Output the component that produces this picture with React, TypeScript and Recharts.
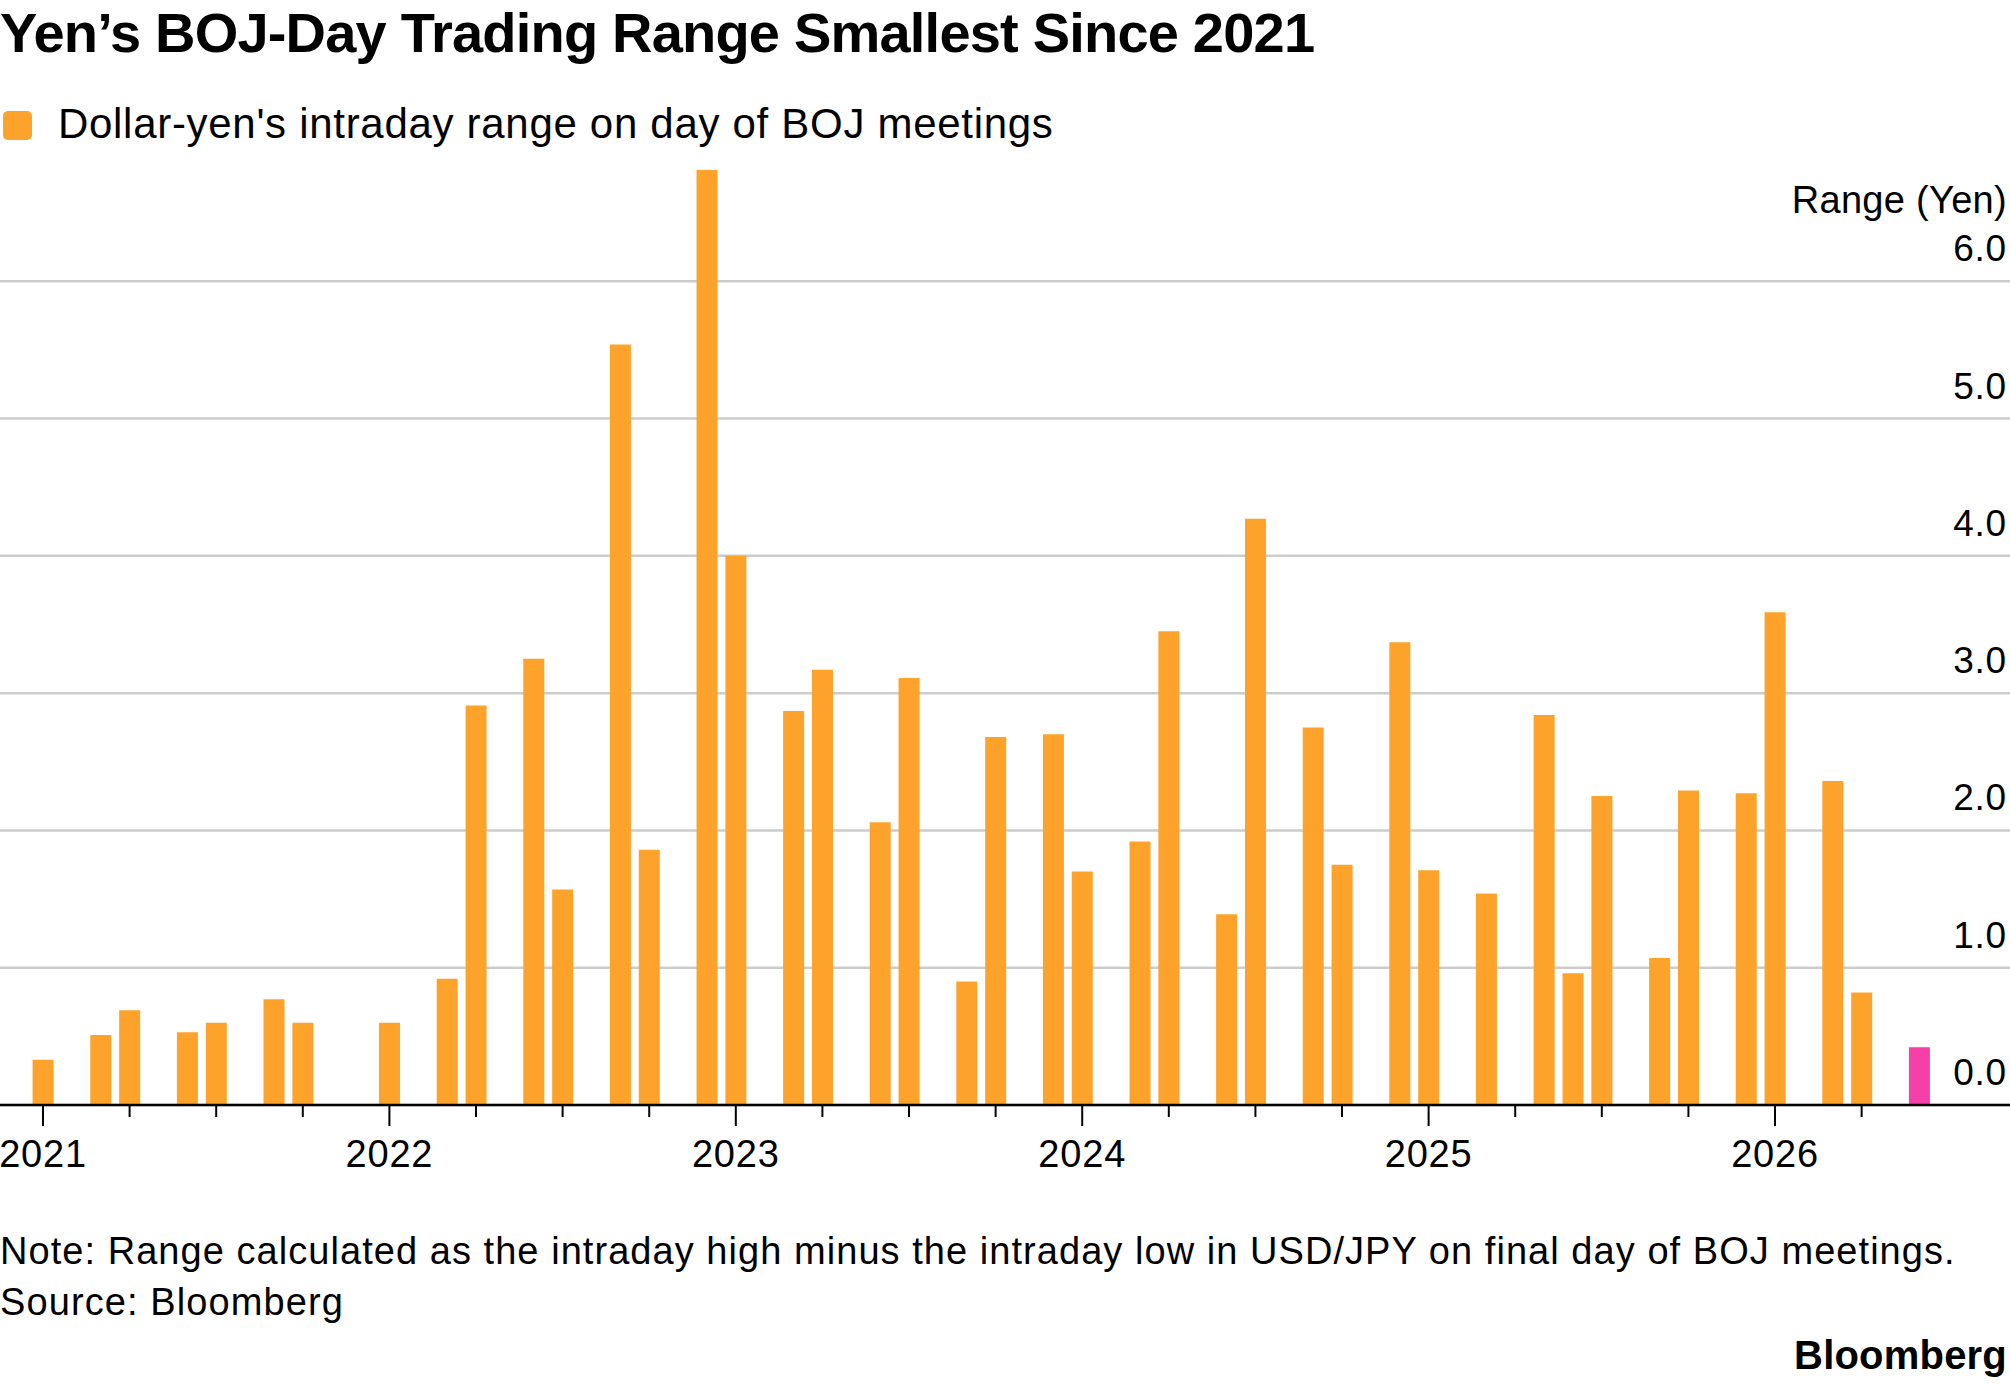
import React from 'react';
import { BarChart, Bar, XAxis, YAxis, CartesianGrid, Cell } from 'recharts';

// BOJ meeting months (final day of meeting) and USD/JPY intraday range (yen)
const meetingMonths: string[] = [
  '2021-01', '2021-03', '2021-04', '2021-06', '2021-07', '2021-09', '2021-10',
  '2022-01', '2022-03', '2022-04', '2022-06', '2022-07', '2022-09', '2022-10', '2022-12',
  '2023-01', '2023-03', '2023-04', '2023-06', '2023-07', '2023-09', '2023-10', '2023-12',
  '2024-01', '2024-03', '2024-04', '2024-06', '2024-07', '2024-09', '2024-10', '2024-12',
  '2025-01', '2025-03', '2025-05', '2025-06', '2025-07', '2025-09', '2025-10', '2025-12',
  '2026-01', '2026-03', '2026-04', '2026-06',
];

const rangeValues: number[] = [
  0.33, 0.51, 0.69, 0.53, 0.60, 0.77, 0.60,
  0.60, 0.92, 2.91, 3.25, 1.57, 5.54, 1.86, 6.81,
  4.00, 2.87, 3.17, 2.06, 3.11, 0.90, 2.68, 2.70,
  1.70, 1.92, 3.45, 1.39, 4.27, 2.75, 1.75, 3.37,
  1.71, 1.54, 2.84, 0.96, 2.25, 1.07, 2.29, 2.27,
  3.59, 2.36, 0.82, 0.42,
];

const highlightMonth = '2026-06';

const yearLabels: string[] = ['2021', '2022', '2023', '2024', '2025', '2026'];
const quarterStartMonths: number[] = [1, 4, 7, 10];
const yTicks: number[] = [0, 1, 2, 3, 4, 5, 6];
const yMax = 7;

const title = 'Yen’s BOJ-Day Trading Range Smallest Since 2021';
const legendLabel = "Dollar-yen's intraday range on day of BOJ meetings";
const yAxisTitle = 'Range (Yen)';
const noteText = 'Note: Range calculated as the intraday high minus the intraday low in USD/JPY on final day of BOJ meetings.';
const sourceText = 'Source: Bloomberg';
const brandText = 'Bloomberg';

const ORANGE = '#FDA32C';
const PINK = '#F73FA8';
const FONT = '"Liberation Sans", Arial, Helvetica, sans-serif';

const baseYear = Number(yearLabels[0]);
const monthIndex = (ym: string) => {
  const [y, m] = ym.split('-').map(Number);
  return (y - baseYear) * 12 + (m - 1);
};

const data = meetingMonths.map((m, i) => ({
  month: m,
  idx: monthIndex(m),
  value: rangeValues[i],
}));

// quarter ticks (Jan/Apr/Jul/Oct) through April of the last labelled year
const xTicks: number[] = [];
yearLabels.forEach((yr) => {
  quarterStartMonths.forEach((qm) => {
    const k = monthIndex(`${yr}-${String(qm).padStart(2, '0')}`);
    if (k <= monthIndex('2026-04')) xTicks.push(k);
  });
});

const W = 2010;
const H = 1386;
const AXIS_W = 80;

const XTick = (props: any) => {
  const { x, y, payload } = props;
  const v = payload.value as number;
  const isYear = v % 12 === 0;
  const label = isYear ? String(baseYear + v / 12) : '';
  return (
    <g>
      <line x1={x} x2={x} y1={y} y2={y + (isYear ? 21 : 12)} stroke="#000" strokeWidth={2} />
      {isYear && (
        <text x={x} y={y + 62} textAnchor="middle" fontFamily={FONT} fontSize={38} letterSpacing={0.8} fill="#000">
          {label}
        </text>
      )}
    </g>
  );
};

const YTick = (props: any) => {
  const { y, payload } = props;
  return (
    <text x={W - 3} y={y - 20} textAnchor="end" fontFamily={FONT} fontSize={37} letterSpacing={0.8} fill="#000">
      {Number(payload.value).toFixed(1)}
    </text>
  );
};

const gridRows = (args: any) => {
  const yAxis = args && args.yAxis;
  if (yAxis && typeof yAxis.scale === 'function') {
    return yTicks.map((t) => yAxis.scale(t));
  }
  const off = args.offset;
  return yTicks.map((t) => off.top + off.height * (1 - t / yMax));
};

const textBase: React.CSSProperties = {
  position: 'absolute',
  fontFamily: FONT,
  color: '#000',
  lineHeight: 1,
  whiteSpace: 'nowrap',
  margin: 0,
};

export default function App() {
  return (
    <div style={{ position: 'absolute', left: 0, top: 0, width: W, height: H, background: '#fff', overflow: 'hidden' }}>
      <div style={{ ...textBase, left: 0, top: 5, fontSize: 56, fontWeight: 700, letterSpacing: -0.8 }}>{title}</div>
      <div
        style={{
          position: 'absolute', left: 3, top: 111, width: 29, height: 29,
          borderRadius: 5, background: ORANGE,
        }}
      />
      <div style={{ ...textBase, left: 58, top: 102.5, fontSize: 42, letterSpacing: 0.7 }}>{legendLabel}</div>
      <div style={{ ...textBase, right: 3, top: 181, fontSize: 38, letterSpacing: 0.3 }}>{yAxisTitle}</div>

      <div style={{ position: 'absolute', left: 0, top: 0 }}>
        <BarChart
          width={W}
          height={H}
          data={data}
          margin={{ top: 144, right: -AXIS_W, bottom: 221, left: 0 }}
          style={{ overflow: 'visible' }}
        >
          <CartesianGrid
            horizontal
            vertical={false}
            stroke="#cccccc"
            strokeWidth={2.5}
            horizontalCoordinatesGenerator={gridRows}
          />
          <XAxis
            dataKey="idx"
            type="number"
            domain={[-1.4896, 68.14]}
            ticks={xTicks}
            interval={0}
            height={60}
            tickLine={false}
            tickSize={0}
            tickMargin={0}
            axisLine={{ stroke: '#000', strokeWidth: 2.5 }}
            tick={<XTick />}
          />
          <YAxis
            yAxisId={0}
            type="number"
            orientation="right"
            width={AXIS_W}
            domain={[0, yMax]}
            ticks={yTicks}
            interval={0}
            allowDecimals
            axisLine={false}
            tickLine={false}
            tick={<YTick />}
          />
          <Bar dataKey="value" barSize={21} isAnimationActive={false}>
            {data.map((d) => (
              <Cell key={d.month} fill={d.month === highlightMonth ? PINK : ORANGE} />
            ))}
          </Bar>
        </BarChart>
      </div>

      <div style={{ ...textBase, left: 0, top: 1232, fontSize: 38, letterSpacing: 1.05 }}>{noteText}</div>
      <div style={{ ...textBase, left: 0, top: 1283, fontSize: 38, letterSpacing: 1.1 }}>{sourceText}</div>
      <div style={{ ...textBase, right: 3, top: 1335, fontSize: 40, fontWeight: 700, letterSpacing: 0.2 }}>{brandText}</div>
    </div>
  );
}
